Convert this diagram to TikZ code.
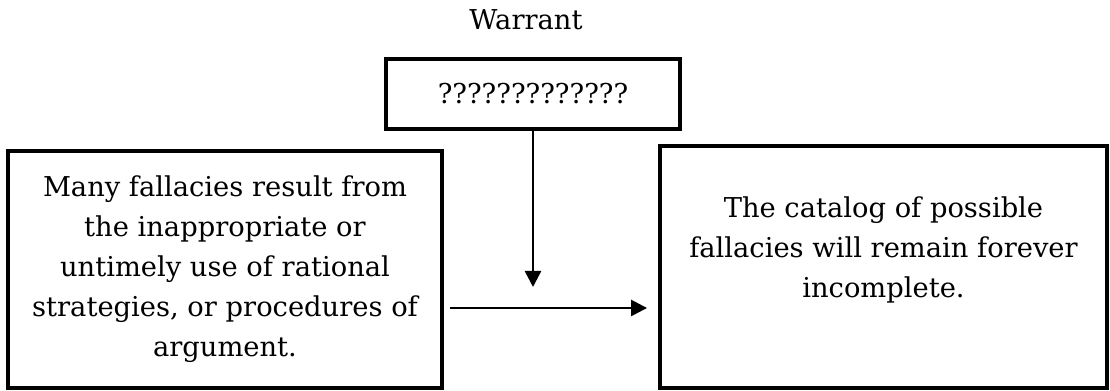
\documentclass[tikz,border=0pt]{standalone}
\usepackage{fontspec}
\setmainfont{DejaVu Serif}
\usetikzlibrary{arrows.meta,positioning}

\begin{document}
\begin{tikzpicture}[x=0.75pt, y=-0.75pt, font=\fontsize{20.5}{30}\selectfont,
    block/.style={draw, line width=3.4pt, align=center, inner sep=0pt},
    link/.style={line width=1.9pt, -{Triangle[length=12pt, width=12pt]}},]
    \useasboundingbox (0,0) rectangle (1110,391);
    \node[block, minimum width=220.5pt, minimum height=52.5pt] (warrant) at (533,94) {?????????????};
    \node[anchor=base] (title) at (526,30) {Warrant};
    \node[block, minimum width=325.5pt, minimum height=177.75pt] (data) at (225,269.5)
        {Many fallacies result from\\ the inappropriate or\\ untimely use of rational\\ strategies, or procedures of\\ argument.};
    \node[block, minimum width=335.25pt, minimum height=181.5pt,
        label={[align=center, yshift=12.75pt]center:The catalog of possible\\ fallacies will remain forever\\ incomplete.}] (claim) at (883.5,267) {};
    \coordinate (drop) at (533,287);
    \coordinate (join) at (450,308);
    \draw[link] (warrant) -- (drop);
    \draw[link, shorten >=8pt] (join) -- (claim.west |- join);
\end{tikzpicture}
\end{document}
